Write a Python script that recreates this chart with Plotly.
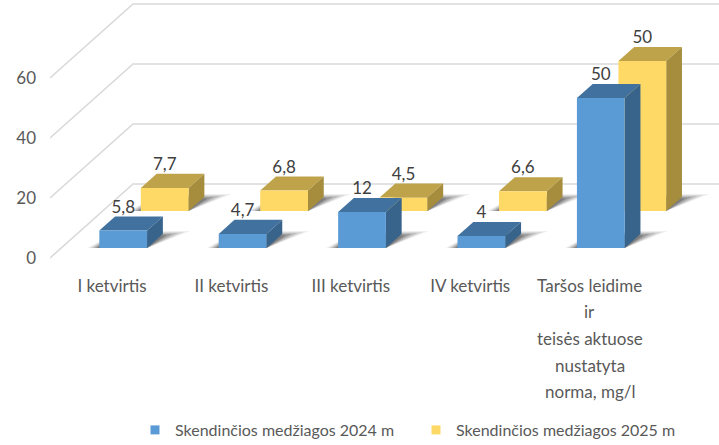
import plotly.graph_objects as go

categories = ["I ketvirtis", "II ketvirtis", "III ketvirtis", "IV ketvirtis", "Taršos leidime"]
extra_label_lines = ["ir", "teisės aktuose", "nustatyta", "norma, mg/l"]
series_2024 = [5.8, 4.7, 12, 4, 50]
series_2025 = [7.7, 6.8, 4.5, 6.6, 50]
name_2024 = "Skendinčios medžiagos 2024 m"
name_2025 = "Skendinčios medžiagos 2025 m"
y_ticks = [0, 20, 40, 60]

W, H = 719, 445
L, B = 50, 175
CAT_PX = 119.4
CAT0_PX = 112
Y_PX = 3.0
X_MIN = (L - CAT0_PX) / CAT_PX
X_MAX = (W - CAT0_PX) / CAT_PX
Y_MIN, Y_MAX = -4, 86
DX = 83 / CAT_PX        # oblique shift of the floor's depth, category units
DY = 74 / Y_PX          # oblique shift of the floor's depth, value units
HALF = 0.2
BAR_DEPTH = 0.19
GRID = "#d9d9d9"
TXT = "#595959"
FONT = "Lato"


def proj(cat, depth, value):
    return cat + depth * DX, value + depth * DY


def poly(fig, pts, color):
    xs = [p[0] for p in pts] + [pts[0][0]]
    ys = [p[1] for p in pts] + [pts[0][1]]
    fig.add_trace(go.Scatter(x=xs, y=ys, mode="lines", fill="toself", fillcolor=color,
                             line=dict(width=0), showlegend=False, hoverinfo="skip"))


def shadow(fig, i, d0):
    d1 = d0 + BAR_DEPTH
    for s, a in [(1.0, 0.08), (0.8, 0.12), (0.6, 0.16), (0.4, 0.22), (0.2, 0.30)]:
        pts = [proj(i - HALF - 0.1 * s, d0, 0),
               proj(i + HALF, d0, 0),
               proj(i + HALF + 0.2 * s, d1 + 0.07 * s - 0.03, 0),
               proj(i - HALF, d1 + 0.07 * s - 0.03, 0)]
        poly(fig, pts, f"rgba(50,50,50,{a})")


def bar(fig, i, v, d0, front, side, top):
    d1 = d0 + BAR_DEPTH
    a, b = i - HALF, i + HALF
    poly(fig, [proj(a, d0, v), proj(b, d0, v), proj(b, d1, v), proj(a, d1, v)], top)
    poly(fig, [proj(b, d0, 0), proj(b, d1, 0), proj(b, d1, v), proj(b, d0, v)], side)
    poly(fig, [proj(a, d0, 0), proj(b, d0, 0), proj(b, d0, v), proj(a, d0, v)], front)


fig = go.Figure()

for t in y_ticks:
    p0 = proj(X_MIN, 0, t)
    p1 = proj(X_MIN, 1, t)
    fig.add_trace(go.Scatter(x=[p0[0], p1[0], X_MAX], y=[p0[1], p1[1], p1[1]], mode="lines",
                             line=dict(color=GRID, width=1.6), showlegend=False, hoverinfo="skip"))

D_2024, D_2025 = 0.135, 0.635
COL_2024 = ("#5b9bd5", "#38648c", "#41719f")
COL_2025 = ("#ffd966", "#a68d3e", "#bfa34a")

for i, v in enumerate(series_2025):
    shadow(fig, i, D_2025)
    bar(fig, i, v, D_2025, *COL_2025)
for i, v in enumerate(series_2024):
    shadow(fig, i, D_2024)
    bar(fig, i, v, D_2024, *COL_2024)

for vals, d0 in [(series_2025, D_2025), (series_2024, D_2024)]:
    xs, ys, tx = [], [], []
    for i, v in enumerate(vals):
        x, _ = proj(i, d0, v)
        _, y = proj(i, d0 + BAR_DEPTH, v)
        xs.append(x)
        ys.append(y + 8 / Y_PX)
        tx.append(str(v).replace(".", ","))
    fig.add_trace(go.Scatter(x=xs, y=ys, text=tx, mode="text", textposition="middle center",
                             textfont=dict(family=FONT, size=17, color="#404040"),
                             showlegend=False, hoverinfo="skip", cliponaxis=False))

for name, col in [(name_2024, COL_2024[0]), (name_2025, COL_2025[0])]:
    fig.add_trace(go.Scatter(x=[None], y=[None], mode="markers", name=name,
                             marker=dict(symbol="square", size=9, color=col)))

PLOT_H = H - B
line_px = [311.5, 338, 365, 391.5]
annotations = [dict(x=len(categories) - 1, y=(PLOT_H - p) / PLOT_H, text=t, xref="x", yref="paper",
                    showarrow=False, font=dict(family=FONT, size=17, color=TXT),
                    xanchor="center", yanchor="middle")
               for t, p in zip(extra_label_lines, line_px)]

fig.update_layout(
    width=W, height=H, margin=dict(l=L, r=0, t=0, b=B, autoexpand=False),
    paper_bgcolor="white", plot_bgcolor="white",
    xaxis=dict(range=[X_MIN, X_MAX], tickmode="array", tickvals=list(range(len(categories))),
               ticktext=categories, showgrid=False, zeroline=False, showline=False, ticks="",
               ticklabelstandoff=4, tickfont=dict(family=FONT, size=17, color=TXT), fixedrange=True),
    yaxis=dict(range=[Y_MIN, Y_MAX], tickmode="array", tickvals=y_ticks, showgrid=False,
               zeroline=False, showline=False, ticks="", ticklabelstandoff=13,
               tickfont=dict(family=FONT, size=17, color=TXT), fixedrange=True),
    legend=dict(orientation="h", x=(135 - L) / (W - L), y=(PLOT_H - 430) / PLOT_H,
                xanchor="left", yanchor="middle",
                font=dict(family=FONT, size=16, color=TXT), entrywidth=236, entrywidthmode="pixels",
                bgcolor="rgba(0,0,0,0)"),
    annotations=annotations, showlegend=True,
)
fig.write_html("out.html", config={"displayModeBar": False},
               post_script="document.body.style.margin='0';")
